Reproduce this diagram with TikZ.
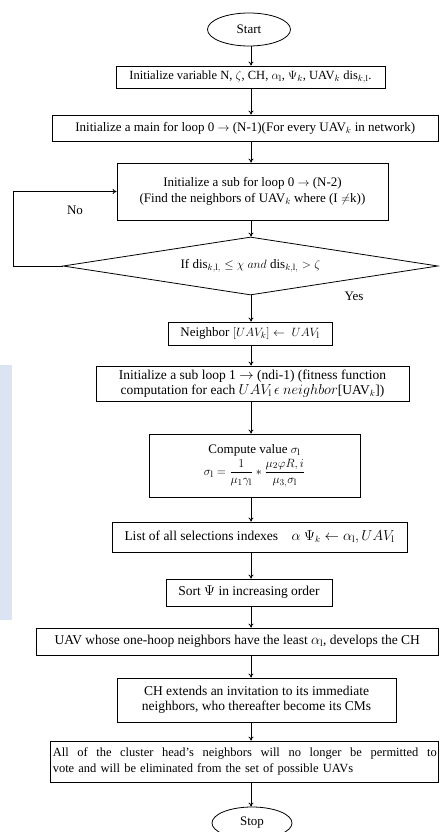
\documentclass[tikz,border=0pt]{standalone}
\usepackage{amsmath}
\usepackage{fontspec}
\setmainfont{Liberation Serif}
\usetikzlibrary{shapes.geometric,arrows.meta}
\definecolor{wm}{HTML}{DCE4F4}
\begin{document}
\begin{tikzpicture}[x=1pt,y=-1pt, font=\fontsize{13.5}{15.5}\selectfont,
  box/.style={draw, line width=0.8pt, inner sep=2pt, align=center},
  term/.style={draw, ellipse, line width=0.8pt, inner sep=0pt},
  arr/.style={-{To[length=4pt,width=5pt]}, line width=0.8pt},
  lbl/.style={inner sep=0pt},
  fs/.style={font=\fontsize{#1}{15.5}\selectfont}
]
\useasboundingbox (0,0) rectangle (439,832);
\fill[wm] (0,365) rectangle (12,620);

\coordinate (ax) at (251,0);

\node[term, fs=13, minimum width=83pt, minimum height=33pt] (start) at (249,29.5) {Start};

\node[box, fs=12.5, minimum width=269pt, minimum height=22pt] (b1) at (250.5,77)
  {Initialize variable N, $\zeta$, CH, $\alpha_{\mathrm{l}}$, $\Psi_k$, UAV$_k$ dis$_{k,\mathrm{l}}$.};

\node[box, fs=13, minimum width=386.5pt, minimum height=26pt] (b2) at (245.25,128)
  {Initialize a main for loop 0 $\rightarrow$ (N-1)(For every UAV$_k$ in network)};

\node[box, fs=13, minimum width=271pt, minimum height=57pt] (b3) at (252.5,191.5)
  {Initialize a sub for loop 0 $\rightarrow$ (N-2)\\(Find the neighbors of UAV$_k$ where (I $\neq$k))};

\node[draw, diamond, fs=13, line width=0.8pt, aspect=6.47, minimum width=375pt, minimum height=58pt, inner sep=0pt] (d) at (250.5,266)
  {If dis$_{k,\mathrm{l},}\leq\chi$ $and$ dis$_{k,\mathrm{l},}>\zeta$};

\node[box, fs=13, minimum width=164pt, minimum height=23pt] (b4) at (250,333.5)
  {Neighbor $[UAV_k]\leftarrow\ UAV_{\mathrm{l}}$};

\node[box, minimum width=313pt, minimum height=35pt] (b5) at (252.5,383.5)
  {Initialize a sub loop 1 $\rightarrow$ (ndi-1) (fitness function\\computation for each $UAV_{\mathrm{l}}\,\epsilon\ neighbor$[UAV$_k$])};

\node[box, fs=13, minimum width=211pt, minimum height=63pt] (b6) at (254.5,465.5)
  {Compute value $\sigma_{\mathrm{l}}$\\[2pt]
   $\sigma_{\mathrm{l}}=\dfrac{1}{\mu_1\gamma_{\mathrm{l}}}*\dfrac{\mu_2\varphi R,i}{\mu_{3,}\sigma_{\mathrm{l}}}$};

\node[box, minimum width=295pt, minimum height=30pt] (b7) at (259.5,537)
  {List of all selections indexes\quad $\alpha\ \Psi_k\leftarrow\alpha_{\mathrm{l}}, UAV_{\mathrm{l}}$};

\node[box, minimum width=166pt, minimum height=27pt] (b8) at (249,592.5)
  {Sort $\Psi$ in increasing order};

\node[box, minimum width=402.5pt, minimum height=27pt] (b9) at (237.25,641.5)
  {UAV whose one-hoop neighbors have the least $\alpha_{\mathrm{l}}$, develops the CH};

\node[box, minimum width=279pt, minimum height=44pt] (b10) at (256.5,700)
  {CH extends an invitation to its immediate\\neighbors, who thereafter become its CMs};

\node[box, fs=12.5, minimum width=387.5pt, minimum height=41pt, text width=384pt, align=left] (b11) at (244.75,761.5)
  {\makebox[384pt][s]{\spaceskip=0.25em plus 2em minus 0.1em All of the cluster head’s neighbors will no longer be permitted to}\\vote and will be eliminated from the set of possible UAVs};

\node[term, fs=13, minimum width=80pt, minimum height=32pt] (stop) at (252,823) {Stop};

\draw[arr] (start.south -| ax) -- (b1.north -| ax);
\draw[arr] (b1.south -| ax) -- (b2.north -| ax);
\draw[arr] (b2.south -| ax) -- (b3.north -| ax);
\draw[arr] (b3.south -| ax) -- (d.north -| ax);
\draw[arr] (d.south -| ax) -- (b4.north -| ax);
\draw[arr] (b4.south -| ax) -- (b5.north -| ax);
\draw[arr] (b5.south -| ax) -- (b6.north -| ax);
\draw[arr] (b6.south -| ax) -- (b7.north -| ax);
\draw[arr] (b7.south -| ax) -- (b8.north -| ax);
\draw[arr] (b8.south -| ax) -- (b9.north -| ax);
\draw[arr] (b9.south -| ax) -- (b10.north -| ax);
\draw[arr] (b10.south -| ax) -- (b11.north -| ax);
\draw[arr] (b11.south -| ax) -- (stop.north -| ax);

\coordinate (nl) at (13,266);
\draw[arr] (d.west) -- (nl) |- (b3.west);
\node[lbl, fs=13] (no) at (75,210) {No};
\node[lbl, fs=13] (yes) at (354,296) {Yes};
\end{tikzpicture}
\end{document}
